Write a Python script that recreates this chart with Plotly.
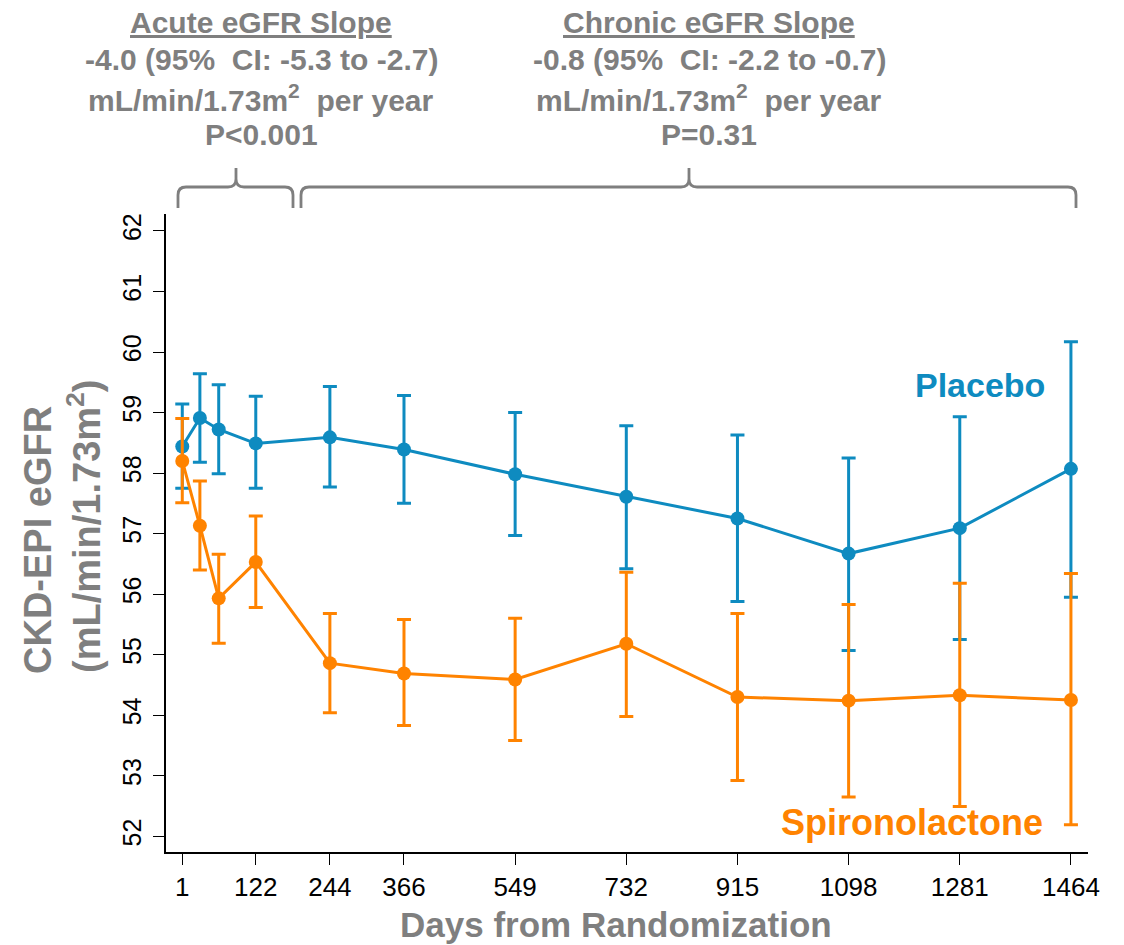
import plotly.graph_objects as go

# ---- data ----
days = [1, 30, 61, 122, 244, 366, 549, 732, 915, 1098, 1281, 1464]
placebo = [58.44, 58.91, 58.72, 58.49, 58.59, 58.39, 57.98, 57.61, 57.25, 56.67, 57.09, 58.07]
placebo_upper = [59.14, 59.64, 59.46, 59.27, 59.43, 59.28, 59.00, 58.78, 58.63, 58.25, 58.93, 60.17]
placebo_lower = [57.75, 58.18, 57.99, 57.75, 57.77, 57.50, 56.97, 56.42, 55.88, 55.07, 55.25, 55.95]
spiro = [58.20, 57.13, 55.93, 56.53, 54.86, 54.69, 54.59, 55.18, 54.30, 54.24, 54.33, 54.25]
spiro_upper = [58.90, 57.87, 56.66, 57.29, 55.68, 55.58, 55.60, 56.36, 55.68, 55.83, 56.18, 56.34]
spiro_lower = [57.51, 56.40, 55.19, 55.78, 54.04, 53.83, 53.58, 53.98, 52.92, 52.65, 52.49, 52.19]
x_tick_days = [1, 122, 244, 366, 549, 732, 915, 1098, 1281, 1464]
y_ticks = [52, 53, 54, 55, 56, 57, 58, 59, 60, 61, 62]

BLUE = "#0E8BC0"
ORANGE = "#FF8300"
GRAY = "#7F7F7F"
FONT = "Liberation Sans, Arial, sans-serif"

W, H = 1124, 945
L, R, T, B = 166, 36, 214, 93
PW, PH = W - L - R, H - T - B


def px(x):
    return (x - L) / PW


def py(y):
    return (H - B - y) / PH


def errs(vals, up, lo):
    return ([u - v for u, v in zip(up, vals)], [v - l for v, l in zip(vals, lo)])


fig = go.Figure()
for name, vals, up, lo, col in [
    ("Placebo", placebo, placebo_upper, placebo_lower, BLUE),
    ("Spironolactone", spiro, spiro_upper, spiro_lower, ORANGE),
]:
    a, am = errs(vals, up, lo)
    fig.add_trace(go.Scatter(
        x=days, y=vals, name=name, mode="lines+markers",
        line=dict(color=col, width=3),
        marker=dict(color=col, size=14),
        error_y=dict(type="data", array=a, arrayminus=am, symmetric=False,
                     color=col, thickness=3, width=7),
        showlegend=False,
    ))

fig.update_layout(
    width=W, height=H,
    margin=dict(l=L, r=R, t=T, b=B, pad=0),
    paper_bgcolor="white", plot_bgcolor="white",
    font=dict(family=FONT, color="black"),
    xaxis=dict(
        range=[-25.8, 1492.1], tickmode="array", tickvals=x_tick_days,
        ticktext=[str(d) for d in x_tick_days],
        showline=True, linecolor="black", linewidth=1.5,
        ticks="outside", ticklen=11, tickwidth=1.3, tickcolor="black",
        showgrid=False, zeroline=False, ticklabelstandoff=0,
        tickfont=dict(size=26, family=FONT, color="black"),
    ),
    yaxis=dict(
        range=[51.74, 62.28], tickmode="array", tickvals=y_ticks,
        showline=True, linecolor="black", linewidth=1.5,
        ticks="outside", ticklen=11, tickwidth=1.3, tickcolor="black",
        showgrid=False, zeroline=False, tickangle=-90, ticklabelstandoff=2,
        tickfont=dict(size=25, family=FONT, color="black"),
    ),
)

ann = []
# axis titles
ann.append(dict(x=px(616), y=py(924), xref="paper", yref="paper",
                text="<b>Days from Randomization</b>", showarrow=False,
                font=dict(size=35, color=GRAY, family=FONT), xanchor="center", yanchor="middle"))
ann.append(dict(x=px(38), y=py(540), xref="paper", yref="paper",
                text="<b>CKD-EPI eGFR</b>", showarrow=False, textangle=-90,
                font=dict(size=38, color=GRAY, family=FONT), xanchor="center", yanchor="middle"))
ann.append(dict(x=px(84), y=py(526), xref="paper", yref="paper",
                text="<b>(mL/min/1.73m<sup>2</sup>)</b>", showarrow=False, textangle=-90,
                font=dict(size=38, color=GRAY, family=FONT), xanchor="center", yanchor="middle"))

# series labels
ann.append(dict(x=px(980), y=py(385), xref="paper", yref="paper",
                text="<b>Placebo</b>", showarrow=False,
                font=dict(size=34, color=BLUE, family=FONT), xanchor="center", yanchor="middle"))
ann.append(dict(x=px(912), y=py(822), xref="paper", yref="paper",
                text="<b>Spironolactone</b>", showarrow=False,
                font=dict(size=36, color=ORANGE, family=FONT), xanchor="center", yanchor="middle"))

# slope headers
acute_lines = ["<b><u>Acute eGFR Slope</u></b>", "<b>-4.0 (95%  CI: -5.3 to -2.7)</b>",
               "<b>mL/min/1.73m<sup>2</sup>  per year</b>", "<b>P<0.001</b>"]
chronic_lines = ["<b><u>Chronic eGFR Slope</u></b>", "<b>-0.8 (95%  CI: -2.2 to -0.7)</b>",
                 "<b>mL/min/1.73m<sup>2</sup>  per year</b>", "<b>P=0.31</b>"]
line_y = [22, 60, 98, 134]
for cx, lines in [(261, acute_lines), (709, chronic_lines)]:
    for yy, t in zip(line_y, lines):
        ann.append(dict(x=px(cx), y=py(yy), xref="paper", yref="paper", text=t,
                        showarrow=False, font=dict(size=30, color=GRAY, family=FONT),
                        xanchor="center", yanchor="middle"))
fig.update_layout(annotations=ann)


def brace(x0, x1, xm, ytop=187, ybot=208, ynub=168, r=8):
    p = []
    p.append(f"M {px(x0)},{py(ybot)}")
    p.append(f"L {px(x0)},{py(ytop + r)}")
    p.append(f"Q {px(x0)},{py(ytop)} {px(x0 + r)},{py(ytop)}")
    p.append(f"L {px(xm - r)},{py(ytop)}")
    p.append(f"Q {px(xm)},{py(ytop)} {px(xm)},{py(ytop - r)}")
    p.append(f"L {px(xm)},{py(ynub)}")
    p.append(f"M {px(xm)},{py(ytop - r)}")
    p.append(f"Q {px(xm)},{py(ytop)} {px(xm + r)},{py(ytop)}")
    p.append(f"L {px(x1 - r)},{py(ytop)}")
    p.append(f"Q {px(x1)},{py(ytop)} {px(x1)},{py(ytop + r)}")
    p.append(f"L {px(x1)},{py(ybot)}")
    return dict(type="path", xref="paper", yref="paper", path=" ".join(p),
                line=dict(color=GRAY, width=2.8))


fig.update_layout(shapes=[brace(178, 293, 236), brace(301, 1076, 689)])

fig.write_html("out.html", config={"displayModeBar": False},
               post_script="document.body.style.margin='0px';")
